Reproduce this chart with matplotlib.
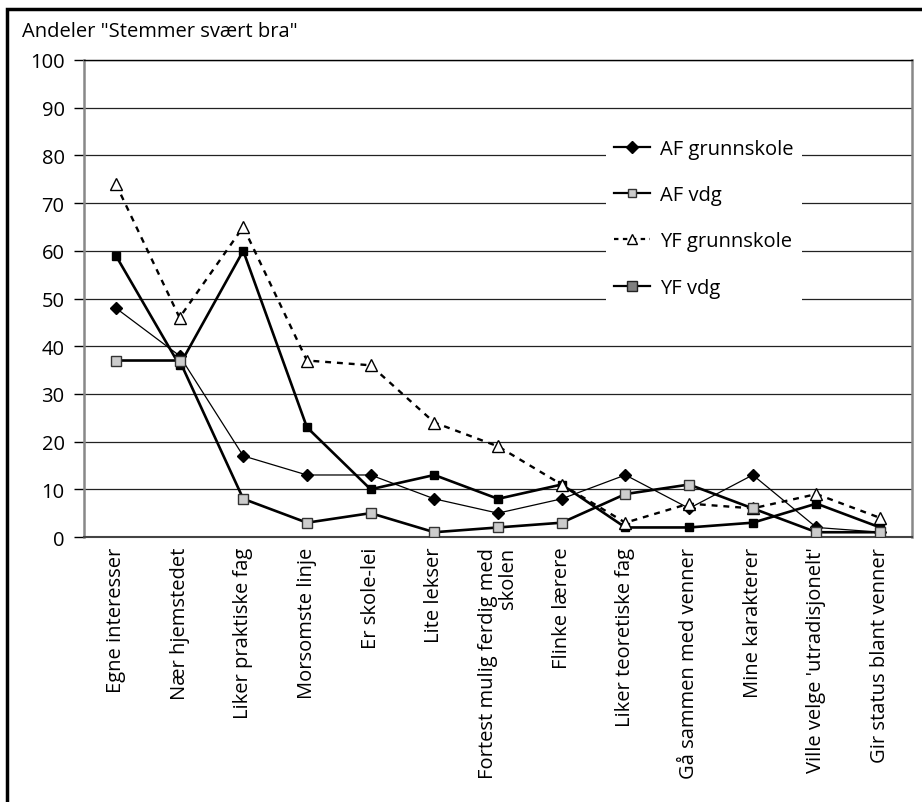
import matplotlib.pyplot as plt
from matplotlib.lines import Line2D
from matplotlib.patches import Rectangle

plt.rcParams['font.family'] = ['Open Sans', 'DejaVu Sans']

# Categories and values
categories = ['Egne interesser', 'Nær hjemstedet', 'Liker praktiske fag', 'Morsomste linje',
              'Er skole-lei', 'Lite lekser', 'Fortest mulig ferdig med\nskolen', 'Flinke lærere',
              'Liker teoretiske fag', 'Gå sammen med venner', 'Mine karakterer',
              "Ville velge 'utradisjonelt'", 'Gir status blant venner']
af_grunnskole = [48, 38, 17, 13, 13, 8, 5, 8, 13, 6, 13, 2, 1]
af_vdg = [37, 37, 8, 3, 5, 1, 2, 3, 9, 11, 6, 1, 1]
yf_grunnskole = [74, 46, 65, 37, 36, 24, 19, 11, 3, 7, 6, 9, 4]
yf_vdg = [59, 36, 60, 23, 10, 13, 8, 11, 2, 2, 3, 7, 2]
series_names = ['AF grunnskole', 'AF vdg', 'YF grunnskole', 'YF vdg']
yticks = list(range(0, 101, 10))

FS = 14.5
W, H = 922, 803
fig = plt.figure(figsize=(W / 100, H / 100), dpi=100)
ax = fig.add_axes([84 / W, 1 - 538 / H, (912 - 84) / W, (538 - 61) / H])

x = list(range(len(categories)))

# grid lines
for v in yticks:
    ax.axhline(v, color='#222222', lw=0.9, zorder=1)

ax.plot(x, af_grunnskole, color='black', lw=0.9, marker='D', ms=6,
        mfc='black', mec='black', zorder=3)
ax.plot(x, yf_vdg, color='black', lw=1.9, marker='s', ms=6,
        mfc='black', mec='black', zorder=4)
ax.plot(x, yf_grunnskole, color='black', lw=1.7, ls=(0, (2.5, 2.5)), marker='^', ms=8,
        mfc='white', mec='black', mew=1, zorder=5)
ax.plot(x, af_vdg, color='black', lw=1.9, marker='s', ms=7,
        mfc='#cccccc', mec='#333333', mew=1, zorder=6)

ax.set_xlim(-0.5, len(categories) - 0.5)
ax.set_ylim(0, 100)
ax.set_yticks(yticks)
ax.tick_params(axis='y', length=7, width=1, pad=7, labelsize=FS, color='black')
ax.set_xticks(x)
ax.set_xticklabels(categories, rotation=90, fontsize=FS, ha='center', va='top',
                   multialignment='right', linespacing=0.95)
ax.tick_params(axis='x', length=0, pad=7)

for s in ['left', 'right']:
    ax.spines[s].set_color('#888888')
    ax.spines[s].set_linewidth(1.8)
ax.spines['bottom'].set_color('#444444')
ax.spines['bottom'].set_linewidth(1.5)
ax.spines['top'].set_color('black')
ax.spines['top'].set_linewidth(1)

handles = [
    Line2D([], [], color='black', lw=1.6, marker='D', ms=6, mfc='black', mec='black'),
    Line2D([], [], color='black', lw=1.6, marker='s', ms=6, mfc='#cccccc', mec='#333333'),
    Line2D([], [], color='black', lw=1.6, ls=(0, (2, 2)), marker='^', ms=7,
           mfc='white', mec='black'),
    Line2D([], [], color='black', lw=1.6, marker='s', ms=7, mfc='#808080', mec='#222222'),
]
leg = ax.legend(handles, series_names, loc='upper left',
                bbox_to_anchor=(596 / W, 1 - 122 / H), bbox_transform=fig.transFigure,
                fontsize=FS, frameon=True, facecolor='white', edgecolor='none',
                framealpha=1, fancybox=False, labelspacing=1.3, handlelength=1.8,
                handletextpad=0.5, borderpad=0.4)
leg.set_zorder(10)

fig.text(22 / W, 1 - 32 / H, 'Andeler "Stemmer svært bra"', fontsize=FS, va='center', ha='left')

# outer frame
fig.patches.append(Rectangle((7 / W, -0.05), 1.1, 1 - 10 / H + 0.05, transform=fig.transFigure,
                             fill=False, edgecolor='black', lw=2.5))

fig.savefig('out.png', dpi=100)
